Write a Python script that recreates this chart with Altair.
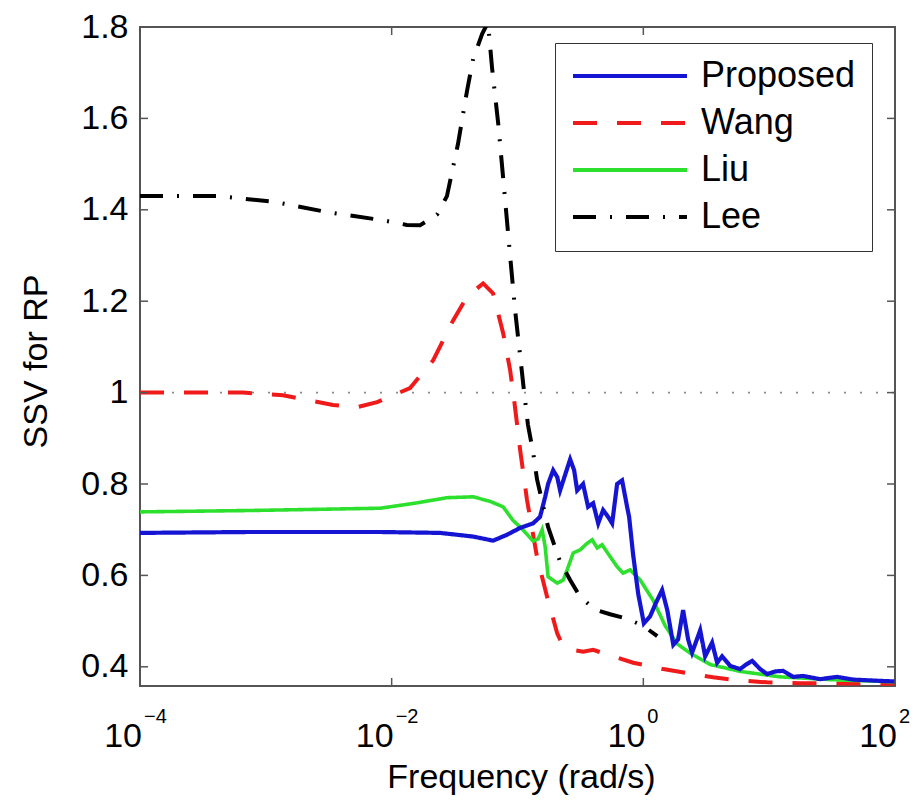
import altair as alt
import pandas as pd

FONT = "Liberation Sans"

series_order = ["Proposed", "Wang", "Liu", "Lee"]
series_colors = ["#1414d2", "#f01a1a", "#2ee02e", "#000000"]
series_dashes = [[1, 0], [24, 20], [1, 0], [23, 14, 2, 14]]
draw_order = ["Wang", "Liu", "Proposed", "Lee"]

proposed_freq = [1e-4, 7.48e-4, 8.09e-3, 2.43e-2, 4.44e-2, 6.40e-2, 8.26e-2, 0.105, 0.133, 0.151,
                 0.166, 0.175, 0.192, 0.207, 0.218, 0.239, 0.262, 0.282, 0.298, 0.332,
                 0.364, 0.399, 0.438, 0.479, 0.525, 0.565, 0.619, 0.678, 0.743, 0.771,
                 0.830, 0.910, 1.01, 1.13, 1.26, 1.41, 1.55, 1.73, 1.89, 2.07,
                 2.27, 2.44, 2.83, 3.10, 3.52, 3.86, 4.23, 4.90, 5.87, 6.56,
                 7.33, 8.48, 9.64, 11.2, 12.9, 15.5, 18.6, 25.4, 34.7, 46.6,
                 80.5, 100.0]
proposed_ssv = [0.693, 0.695, 0.695, 0.693, 0.685, 0.676, 0.689, 0.704, 0.714, 0.728,
                0.772, 0.800, 0.830, 0.815, 0.786, 0.820, 0.854, 0.830, 0.786, 0.800,
                0.750, 0.758, 0.714, 0.743, 0.728, 0.714, 0.800, 0.808, 0.750, 0.728,
                0.645, 0.560, 0.495, 0.510, 0.540, 0.568, 0.524, 0.448, 0.460, 0.524,
                0.460, 0.431, 0.480, 0.423, 0.453, 0.409, 0.423, 0.402, 0.395, 0.405,
                0.413, 0.395, 0.384, 0.390, 0.391, 0.378, 0.380, 0.373, 0.378, 0.372,
                0.369, 0.368]

wang_freq = [1e-4, 6.59e-4, 1.37e-3, 3.42e-3, 5.31e-3, 7.66e-3, 1.40e-2, 2.13e-2, 3.08e-2, 3.97e-2,
             5.33e-2, 6.40e-2, 7.69e-2, 8.73e-2, 9.40e-2, 0.105, 0.119, 0.143, 0.172, 0.207,
             0.226, 0.272, 0.332, 0.399, 0.575, 0.830, 1.44, 2.35, 3.59, 5.87,
             9.64, 17.6, 100.0]
wang_ssv = [1.000, 1.000, 0.994, 0.973, 0.968, 0.979, 1.010, 1.070, 1.158, 1.210,
            1.239, 1.217, 1.130, 1.050, 0.984, 0.874, 0.765, 0.640, 0.553, 0.473,
            0.450, 0.437, 0.433, 0.437, 0.423, 0.409, 0.395, 0.385, 0.377, 0.370,
            0.366, 0.364, 0.363]

liu_freq = [1e-4, 7.48e-4, 8.09e-3, 1.53e-2, 2.75e-2, 4.44e-2, 6.05e-2, 7.69e-2, 9.23e-2, 0.105,
            0.119, 0.133, 0.146, 0.157, 0.166, 0.175, 0.207, 0.231, 0.248, 0.277,
            0.315, 0.357, 0.392, 0.430, 0.470, 0.545, 0.619, 0.690, 0.785, 0.944,
            1.20, 1.49, 1.86, 2.35, 3.40, 5.87, 12.2, 30.5, 100.0]
liu_ssv = [0.739, 0.742, 0.747, 0.758, 0.770, 0.772, 0.762, 0.750, 0.720, 0.706,
           0.690, 0.675, 0.680, 0.700, 0.662, 0.597, 0.583, 0.590, 0.612, 0.649,
           0.656, 0.670, 0.678, 0.660, 0.667, 0.641, 0.619, 0.605, 0.612, 0.590,
           0.545, 0.490, 0.450, 0.430, 0.405, 0.390, 0.378, 0.372, 0.367]

lee_freq = [1e-4, 1.36e-4, 4.09e-4, 1.14e-3, 3.06e-3, 8.55e-3, 1.32e-2, 1.68e-2, 2.30e-2, 2.75e-2,
            3.37e-2, 3.97e-2, 4.44e-2, 5.24e-2, 5.83e-2, 6.28e-2, 7.02e-2, 7.69e-2, 8.73e-2, 9.57e-2,
            0.105, 0.113, 0.121, 0.133, 0.143, 0.175, 0.218, 0.262, 0.315, 0.414,
            0.545, 0.743, 0.995, 1.29]
lee_ssv = [1.430, 1.430, 1.430, 1.418, 1.395, 1.377, 1.367, 1.366, 1.390, 1.430,
           1.545, 1.660, 1.730, 1.785, 1.810, 1.710, 1.590, 1.470, 1.300, 1.180,
           1.080, 1.000, 0.930, 0.870, 0.810, 0.706, 0.630, 0.590, 0.553, 0.525,
           0.515, 0.505, 0.490, 0.467]

ytick_vals = [0.4, 0.6, 0.8, 1.0, 1.2, 1.4, 1.6, 1.8]
xtick_vals = [1e-4, 1e-2, 1.0, 1e2]
xtick_base = ["10", "10", "10", "10"]
xtick_exp = ["\u22124", "\u22122", "0", "2"]
ref_level = [1.0]

rows = []
for name, fs, vs in [("Proposed", proposed_freq, proposed_ssv), ("Wang", wang_freq, wang_ssv),
                     ("Liu", liu_freq, liu_ssv), ("Lee", lee_freq, lee_ssv)]:
    for f, v in zip(fs, vs):
        rows.append({"series": name, "freq": f, "ssv": v})
df = pd.DataFrame(rows)

W, H = 755, 659

xscale = alt.Scale(type="log", domain=[1e-4, 1e2], nice=False)
yscale = alt.Scale(domain=[0.358, 1.8], nice=False, zero=False)

xaxis = alt.Axis(labels=False, ticks=False, domain=False, grid=False,
                 title="Frequency (rad/s)", titleFontSize=34, titleFontWeight="normal",
                 titleX=381, titleY=101, titleAlign="center", titleBaseline="alphabetic")
yaxis = alt.Axis(values=ytick_vals, format=".1~f", labelFontSize=34, labelPadding=12,
                 ticks=False, domain=False, grid=False,
                 title="SSV for RP", titleFontSize=34, titleFontWeight="normal",
                 titleX=-104, titleY=334, titleAngle=270, titleAlign="center",
                 titleBaseline="middle")

X = alt.X("freq:Q", scale=xscale, axis=xaxis)
Y = alt.Y("ssv:Q", scale=yscale, axis=yaxis)

color = alt.Color("series:N", scale=alt.Scale(domain=series_order, range=series_colors),
                  legend=alt.Legend(title=None))
dash = alt.StrokeDash("series:N", scale=alt.Scale(domain=series_order, range=series_dashes),
                      legend=alt.Legend(title=None))

ref = alt.Chart(pd.DataFrame({"ssv": ref_level})).mark_rule(
    color="#8a8a8a", strokeWidth=1.6, strokeDash=[2, 14]).encode(
    y=Y, x=alt.value(0), x2=alt.value(W))

widths = {"Proposed": 4.2, "Wang": 4.0, "Liu": 3.6, "Lee": 4.0}
lines = []
for name in draw_order:
    lines.append(alt.Chart(df).transform_filter(alt.datum.series == name).mark_line(
        clip=True, strokeWidth=widths[name]).encode(x=X, y=Y, color=color, strokeDash=dash))

ytd = pd.DataFrame({"ssv": ytick_vals})
xtd = pd.DataFrame({"freq": xtick_vals, "base": xtick_base, "exp": xtick_exp})
tick_color = "#555555"
yl = alt.Chart(ytd).mark_rule(color=tick_color, strokeWidth=1.5).encode(
    y=Y, x=alt.value(0), x2=alt.value(8))
yr = alt.Chart(ytd).mark_rule(color=tick_color, strokeWidth=1.5).encode(
    y=Y, x=alt.value(W), x2=alt.value(W - 8))
xb = alt.Chart(xtd).mark_rule(color=tick_color, strokeWidth=1.5).encode(
    x=X, y=alt.value(H), y2=alt.value(H - 8))
xt = alt.Chart(xtd).mark_rule(color=tick_color, strokeWidth=1.5).encode(
    x=X, y=alt.value(0), y2=alt.value(8))
xbase = alt.Chart(xtd).mark_text(align="right", baseline="alphabetic", fontSize=34,
                                 font=FONT, color="black", dx=2).encode(
    x=X, y=alt.value(720), text="base:N")
xexp = alt.Chart(xtd).mark_text(align="left", baseline="alphabetic", fontSize=20,
                                font=FONT, color="black", dx=4).encode(
    x=X, y=alt.value(696), text="exp:N")

chart = alt.layer(ref, *lines, yl, yr, xb, xt, xbase, xexp).properties(
    width=W, height=H,
    autosize=alt.AutoSizeParams(type="none"),
    padding={"left": 140, "top": 27, "right": 25, "bottom": 118},
    background="white",
).configure_view(
    stroke="#555555", strokeWidth=2
).configure_axis(
    labelFont=FONT, titleFont=FONT, labelColor="black", titleColor="black"
).configure_legend(
    orient="none", legendX=415, legendY=16,
    strokeColor="#333333", fillColor="white", padding=16,
    symbolType="stroke", symbolSize=12996, symbolStrokeWidth=3.8,
    clipHeight=34, rowPadding=11, labelOffset=12,
    labelFontSize=36, labelFont=FONT, labelColor="black", labelLimit=400,
)

chart.save("out.html", embed_options={"renderer": "svg", "actions": False})
